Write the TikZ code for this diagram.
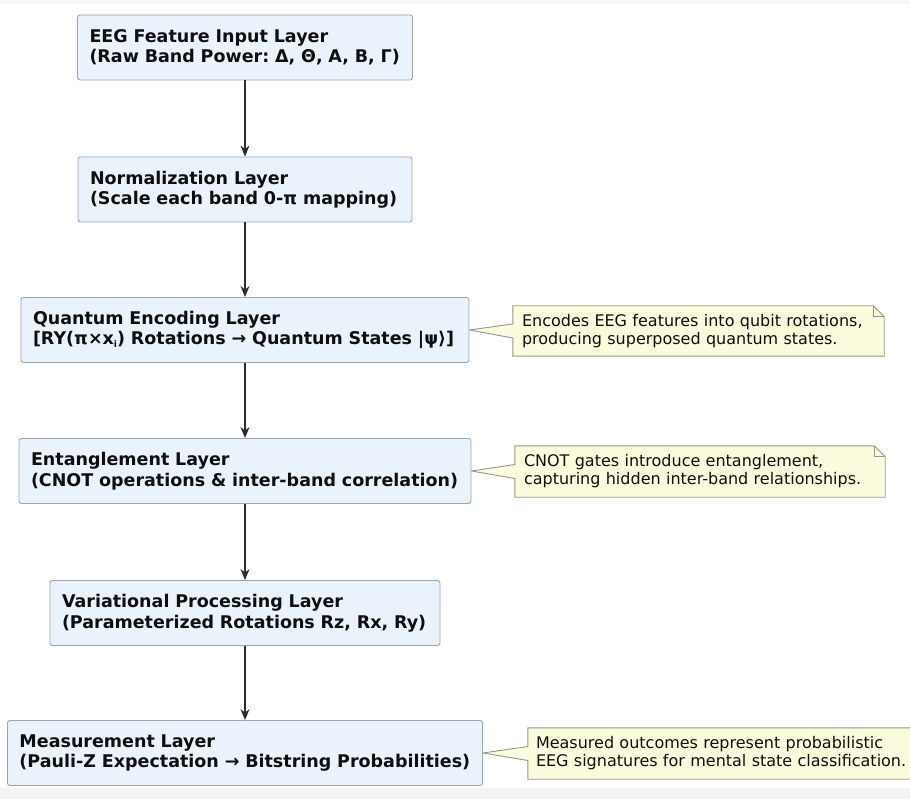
\documentclass[tikz,border=0pt]{standalone}
\usepackage{fontspec}
\setmainfont{DejaVu Sans}
\usetikzlibrary{arrows.meta,calc,backgrounds}
\frenchspacing
\definecolor{boxfill}{RGB}{234,242,251}
\definecolor{boxline}{RGB}{155,165,175}
\definecolor{notefill}{RGB}{251,251,222}
\definecolor{noteline}{RGB}{150,150,140}
\definecolor{arrowc}{RGB}{45,45,45}
\definecolor{textc}{RGB}{15,15,15}
\definecolor{stripc}{RGB}{243,243,243}
\begin{document}
\begin{tikzpicture}[x=1pt,y=-1pt,
  layer/.style={draw=boxline, fill=boxfill, line width=0.9pt, rounded corners=2.5pt,
    minimum height=65pt, inner xsep=12pt, align=left,
    font=\fontsize{17.5}{20.5}\selectfont\bfseries\frenchspacing, text=textc},
  notetext/.style={inner xsep=9pt, inner ysep=0pt, align=left,
    font=\fontsize{16}{18}\selectfont\frenchspacing, text=textc},
  flow/.style={-{Stealth[length=11pt,width=9pt,inset=3.5pt]}, draw=arrowc, line width=1.1pt},
  noteshape/.style={draw=noteline, fill=notefill, line width=0.9pt, line join=miter},
  notefold/.style={draw=noteline, line width=0.9pt}
]
\useasboundingbox (0,0) rectangle (910,799);
\clip (0,0) rectangle (910,799);
\fill[stripc] (0,788) rectangle (910,799);
\fill[stripc!60!white] (0,0) rectangle (910,4);

\node[layer, text width=311pt] (l1) at (245,47.5) {\mbox{EEG Feature Input Layer}\\\mbox{(Raw Band Power: Δ, Θ, A, B, Γ)}};
\node[layer, text width=310pt] (l2) at (245,189.5) {\mbox{Normalization Layer}\\\mbox{(Scale each band 0-π mapping)}};
\node[layer, text width=424pt] (l3) at (245,330) {\mbox{Quantum Encoding Layer}\\\mbox{[RY(π×x\raisebox{-2.5pt}{\fontsize{9}{9}\selectfont i}) Rotations → Quantum States |ψ⟩]}};
\node[layer, text width=428pt] (l4) at (245,471) {\mbox{Entanglement Layer}\\\mbox{(CNOT operations \& inter-band correlation)}};
\node[layer, text width=366pt] (l5) at (245,613) {\mbox{Variational Processing Layer}\\\mbox{(Parameterized Rotations Rz, Rx, Ry)}};
\node[layer, text width=451pt] (l6) at (245,753) {\mbox{Measurement Layer}\\\mbox{(Pauli-Z Expectation → Bitstring Probabilities)}};

\draw[flow] (l1.south) -- (l2.north);
\draw[flow] (l2.south) -- (l3.north);
\draw[flow] (l3.south) -- (l4.north);
\draw[flow] (l4.south) -- (l5.north);
\draw[flow] (l5.south) -- (l6.north);

\node[notetext, minimum width=371pt, minimum height=50pt, text width=353pt] (n1) at (698.5,331)
  {\mbox{Encodes EEG features into qubit rotations,}\\\mbox{producing superposed quantum states.}};
\node[notetext, minimum width=370pt, minimum height=51pt, text width=352pt] (n2) at (700,471.5)
  {\mbox{CNOT gates introduce entanglement,}\\\mbox{capturing hidden inter-band relationships.}};
\node[notetext, inner xsep=8pt, minimum width=395pt, minimum height=51pt, text width=379pt] (n3) at (725.5,753.5)
  {\mbox{Measured outcomes represent probabilistic}\\\mbox{EEG signatures for mental state classification.}};

\begin{scope}[on background layer]
  \foreach \n/\b in {n1/l3, n2/l4, n3/l6} {
    \path[noteshape] (\n.north west) -- ($(\n.north east)+(-11,0)$) -- ($(\n.north east)+(0,11)$)
      -- (\n.south east) -- (\n.south west) -- ($(\n.west)+(0,7)$) -- (\b.east)
      -- ($(\n.west)+(0,-7)$) -- cycle;
    \draw[notefold] ($(\n.north east)+(-11,0)$) -- ($(\n.north east)+(-11,11)$) -- ($(\n.north east)+(0,11)$);
  }
\end{scope}
\end{tikzpicture}
\end{document}
